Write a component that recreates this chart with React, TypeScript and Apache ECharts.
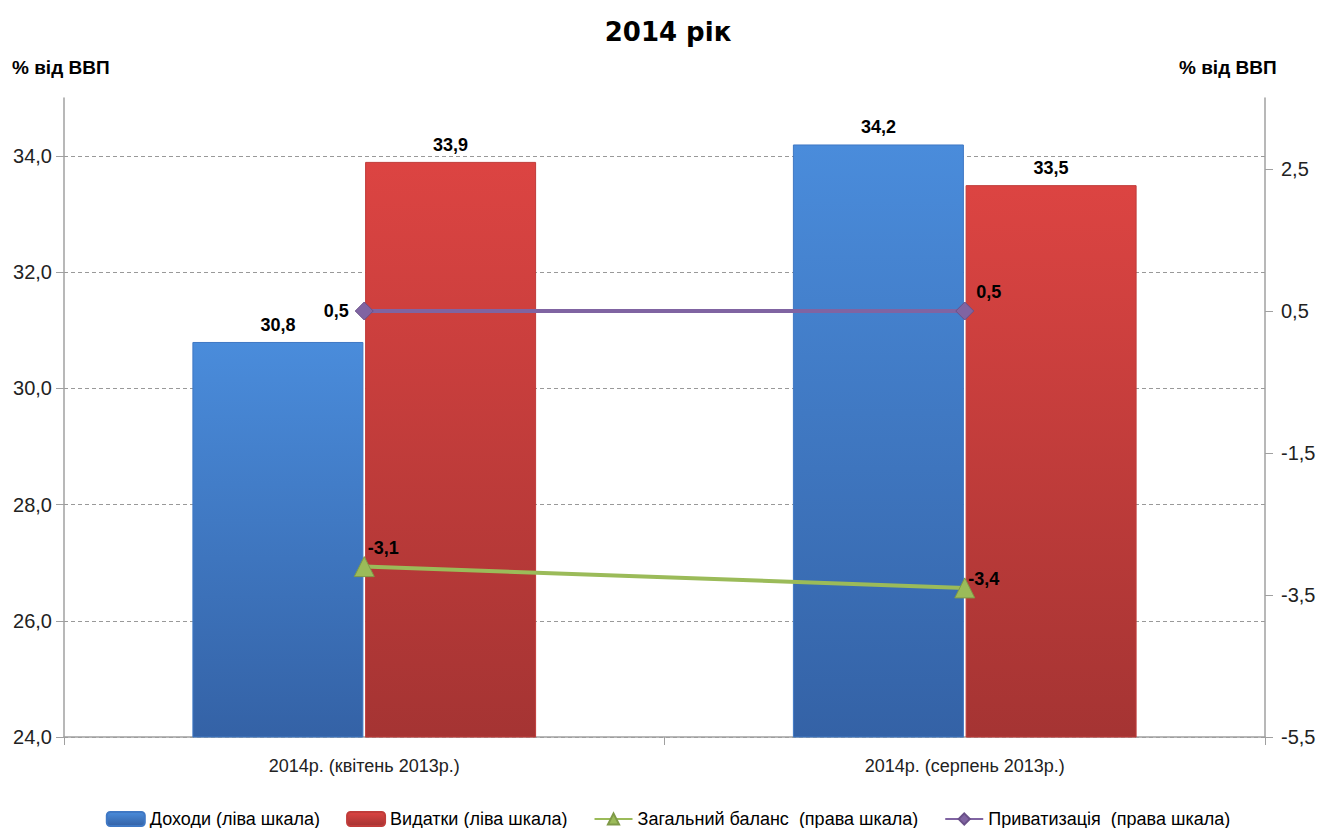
import React, { useEffect, useRef } from "react";
import * as echarts from "echarts";

const categories = ["2014р. (квітень 2013р.)", "2014р. (серпень 2013р.)"];
const revenues = [30.8, 34.2];
const expenditures = [33.9, 33.5];
const balance = [-3.1, -3.4];
const privatization = [0.5, 0.5];

const SANS = "'Liberation Sans', Arial, sans-serif";
const TITLE_FONT = "'DejaVu Sans', 'Liberation Sans', sans-serif";

const comma = (v: number) => v.toFixed(1).replace(".", ",");

export default function App() {
  const ref = useRef<HTMLDivElement>(null);
  useEffect(() => {
    if (!ref.current) return;
    const chart = echarts.init(ref.current, undefined, { renderer: "svg" });
    const blueGrad = new echarts.graphic.LinearGradient(0, 0, 0, 1, [
      { offset: 0, color: "#4a8cdb" },
      { offset: 1, color: "#3462a6" },
    ]);
    const redGrad = new echarts.graphic.LinearGradient(0, 0, 0, 1, [
      { offset: 0, color: "#dc4442" },
      { offset: 1, color: "#a53433" },
    ]);
    const barLabel = {
      show: true,
      position: "top" as const,
      distance: 8,
      fontFamily: SANS,
      fontWeight: "bold" as const,
      fontSize: 18,
      color: "#000",
      formatter: (p: any) => comma(p.value),
    };
    const lineLabelBase = {
      show: true,
      fontFamily: SANS,
      fontWeight: "bold" as const,
      fontSize: 18,
      color: "#000",
      verticalAlign: "middle" as const,
      formatter: (p: any) => comma(p.value),
    };
    const grid = "#999";
    chart.setOption({
      animation: false,
      backgroundColor: "#fff",
      title: {
        text: "2014 рік",
        left: "center",
        top: 14,
        textStyle: { fontFamily: TITLE_FONT, fontWeight: "bold", fontSize: 26, color: "#000" },
      },
      graphic: [
        {
          type: "text",
          left: 12,
          top: 58,
          style: { text: "% від ВВП", font: `bold 19px ${SANS}`, fill: "#000" },
        },
        {
          type: "text",
          left: 1179,
          top: 58,
          style: { text: "% від ВВП", font: `bold 19px ${SANS}`, fill: "#000" },
        },
      ],
      legend: {
        top: 805,
        left: "center",
        itemGap: 26,
        itemWidth: 38,
        itemHeight: 14,
        textStyle: { fontFamily: SANS, fontSize: 18, color: "#000" },
        data: [
          { name: "Доходи (ліва шкала)", icon: "roundRect" },
          { name: "Видатки (ліва шкала)", icon: "roundRect" },
          { name: "Загальний баланс  (права шкала)" },
          { name: "Приватизація  (права шкала)" },
        ],
      },
      grid: { left: 64, right: 71, top: 98, bottom: 99, containLabel: false },
      xAxis: {
        type: "category",
        data: categories,
        boundaryGap: true,
        axisLine: { onZero: false, lineStyle: { color: "#a0a0a0", width: 1.5 } },
        axisTick: { show: true, alignWithLabel: false, length: 8, lineStyle: { color: "#a0a0a0" } },
        axisLabel: { fontFamily: SANS, fontSize: 18, color: "#222", margin: 20 },
      },
      yAxis: [
        {
          type: "value",
          min: 24,
          max: 35,
          interval: 2,
          axisLine: { show: true, lineStyle: { color: "#a0a0a0", width: 1.5 } },
          axisTick: { show: true, length: 8, lineStyle: { color: "#a0a0a0" } },
          axisLabel: {
            fontFamily: SANS,
            fontSize: 20,
            color: "#222",
            margin: 12,
            showMaxLabel: false,
            formatter: (v: number) => comma(v),
          },
          splitLine: {
            show: true,
            lineStyle: {
              color: [grid, grid, grid, grid, grid, grid, "rgba(0,0,0,0)"],
              type: [4, 3],
              width: 1,
            },
          },
        },
        {
          type: "value",
          min: -5.5,
          max: 3.5,
          interval: 2,
          position: "right",
          axisLine: { show: true, lineStyle: { color: "#a0a0a0", width: 1.5 } },
          axisTick: { show: true, length: 8, lineStyle: { color: "#a0a0a0" } },
          axisLabel: {
            fontFamily: SANS,
            fontSize: 20,
            color: "#222",
            margin: 16,
            showMaxLabel: false,
            formatter: (v: number) => comma(v),
          },
          splitLine: { show: false },
        },
      ],
      series: [
        {
          name: "Доходи (ліва шкала)",
          type: "bar",
          data: revenues,
          barWidth: 171,
          barGap: "1%",
          itemStyle: { color: blueGrad, borderColor: "#3f78c4", borderWidth: 1 },
          label: barLabel,
        },
        {
          name: "Видатки (ліва шкала)",
          type: "bar",
          data: expenditures,
          barWidth: 171,
          barGap: "1%",
          itemStyle: { color: redGrad, borderColor: "#c03c3a", borderWidth: 1 },
          label: barLabel,
        },
        {
          name: "Загальний баланс  (права шкала)",
          type: "line",
          yAxisIndex: 1,
          data: [
            { value: balance[0], label: { ...lineLabelBase, position: [14, -8], align: "left" } },
            { value: balance[1], label: { ...lineLabelBase, position: [14, 2], align: "left" } },
          ],
          symbol: "triangle",
          symbolSize: 20,
          lineStyle: { color: "#9bbb59", width: 4 },
          itemStyle: { color: "#9bbb59", borderColor: "#7f9a48", borderWidth: 1 },
          z: 5,
        },
        {
          name: "Приватизація  (права шкала)",
          type: "line",
          yAxisIndex: 1,
          data: [
            { value: privatization[0], label: { ...lineLabelBase, position: [-6, 9], align: "right" } },
            { value: privatization[1], label: { ...lineLabelBase, position: [21, -10], align: "left" } },
          ],
          symbol: "diamond",
          symbolSize: 18,
          lineStyle: { color: "#8064a2", width: 4 },
          itemStyle: { color: "#8064a2", borderColor: "#6a5088", borderWidth: 1 },
          z: 5,
        },
      ],
    });
    return () => chart.dispose();
  }, []);
  return <div ref={ref} style={{ width: 1336, height: 836, margin: -8 }} />;
}
